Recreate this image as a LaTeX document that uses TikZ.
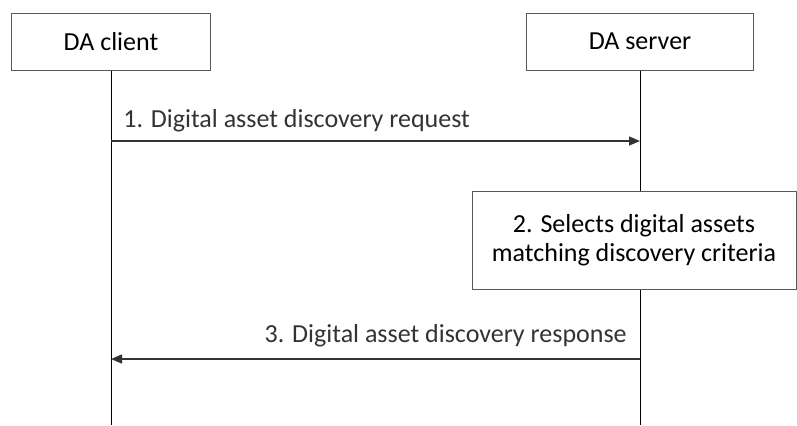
\documentclass[tikz,border=0pt]{standalone}
\usepackage{fontspec}
\setmainfont{Carlito}
\usetikzlibrary{arrows.meta}
\begin{document}
\begin{tikzpicture}
		[x=0.5pt,y=-0.5pt,
		font=\fontsize{13}{14.5}\selectfont,
		entity/.style={rectangle,draw=black!65,fill=white,line width=0.5pt,
inner sep=0pt,minimum height=28.5pt},
		action/.style={rectangle,draw=black!65,fill=white,line width=0.5pt,
inner sep=0pt,minimum width=162pt,minimum height=49pt,align=center},
		lifeline/.style={-,black,line width=0.5pt},
		msgstyle/.style={-{Triangle[length=5.5pt,width=4.5pt]},black!80,line width=0.7pt}]
		\useasboundingbox (0,0) rectangle (797,425);
		\node at (111,41.5) (client) [entity,minimum width=99.5pt] {DA client};
		\node at (640,41.5) (server) [entity,minimum width=113.5pt] {DA server};
		\coordinate (clientend) at (111,425);
		\coordinate (serverend) at (640,425);
		\draw [lifeline] (client) -- (clientend);
		\draw [lifeline] (server) -- (serverend);
		\node at (634,240) (select) [action] {2. Selects digital assets\\matching discovery criteria};
		\coordinate (req1) at (111,141);
		\coordinate (req2) at (640,141);
		\draw [msgstyle] (req1) -- (req2)
			node [pos=0,anchor=base west,xshift=2.5pt,yshift=7pt] {1. Digital asset discovery request};
		\coordinate (resp1) at (640,359);
		\coordinate (resp2) at (111,359);
		\draw [msgstyle] (resp1) -- (resp2)
			node [pos=0,anchor=base east,xshift=-3pt,yshift=8.5pt] {3. Digital asset discovery response};
	\end{tikzpicture}
\end{document}
